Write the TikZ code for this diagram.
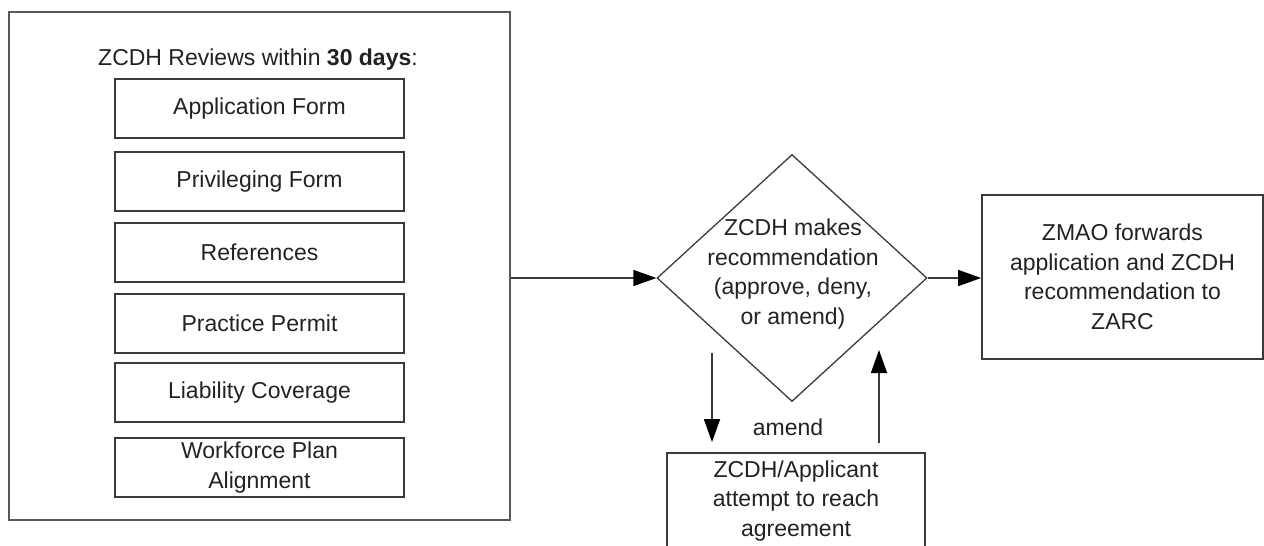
\documentclass[tikz,border=0pt]{standalone}
\usepackage{fontspec}
\setmainfont{Liberation Sans}
\usetikzlibrary{shapes.geometric,arrows.meta}
\definecolor{inkline}{HTML}{3A3A3A}
\definecolor{inktext}{HTML}{222222}
\tikzset{
  every node/.style={text=inktext, font=\fontsize{23}{29.5}\selectfont},
  frame/.style={draw=inkline!85, line width=1.6pt, rectangle},
  item/.style={draw=inkline, line width=2pt, rectangle, minimum width=289pt,
               minimum height=59pt, inner sep=2pt, align=center},
  proc/.style={draw=inkline, line width=1.7pt, rectangle, align=center, inner sep=2pt},
  decision/.style={draw=inkline, line width=1.3pt, diamond, minimum width=270pt,
                   minimum height=247pt, inner sep=0pt},
  arr/.style={draw=inkline, line width=1.5pt,
              -{Triangle[length=23pt,width=16pt,fill=black,color=black]}}
}
\begin{document}
\begin{tikzpicture}[x=1pt,y=-1pt]
\useasboundingbox (0,0) rectangle (1264,546);
\clip (0,0) rectangle (1264,546);

% review stage with its checklist
\node[frame, minimum width=501pt, minimum height=508pt] (review) at (259.5,266) {};
\node[anchor=base] (title) at (258,65) {ZCDH Reviews within \textbf{30 days}:};
\node[item] (appform) at (259.5,108.5) {Application Form};
\node[item] (privform) at (259.5,181.5) {Privileging Form};
\node[item] (refs) at (259.5,252.5) {References};
\node[item] (permit) at (259.5,323) {Practice Permit};
\node[item] (liab) at (259.5,392.5) {Liability Coverage};
\node[item] (wfplan) at (259.5,467.5) {Workforce Plan\\Alignment};

% recommendation decision
\node[decision] (dec) at (792,278) {};
\node[align=center] (dectext) at (793,274) {ZCDH makes\\recommendation\\(approve, deny,\\or amend)};

% forwarding step
\node[proc, minimum width=281pt, minimum height=164pt] (zmao) at (1122.5,277)
  {ZMAO forwards\\application and ZCDH\\recommendation to\\ZARC};

% amendment loop
\node[proc, minimum width=258pt, minimum height=96pt] (agree) at (796,501)
  {ZCDH/Applicant\\attempt to reach\\agreement};
\node[anchor=base] (amend) at (788,435) {amend};

% connectors
\draw[arr] (review.east |- dec.west) -- (dec.west);
\draw[arr] (dec.east) -- (zmao.west |- dec.east);
\coordinate (downstart) at (712,353);
\coordinate (uptip) at (879,350);
\draw[arr, shorten >=10pt] (downstart) -- (downstart |- agree.north);
\draw[arr, shorten <=9pt] (uptip |- agree.north) -- (uptip);
\end{tikzpicture}
\end{document}
